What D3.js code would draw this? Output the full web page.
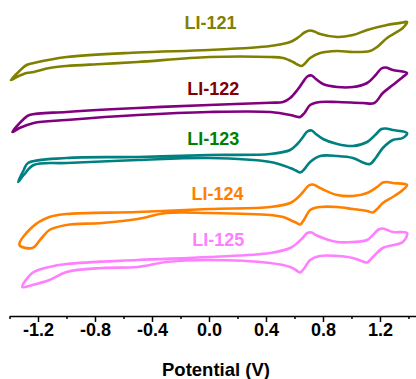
<!DOCTYPE html>
<html>
<head>
<meta charset="utf-8">
<script src="https://cdn.jsdelivr.net/npm/d3@7"></script>
<style>
  html, body { margin: 0; padding: 0; background: #fff; }
  svg { display: block; font-family: "Liberation Sans", Arial, sans-serif; }
</style>
</head>
<body>
<div id="chart"></div>
<script>
// samples and colours
var samples = ["LI-121", "LI-122", "LI-123", "LI-124", "LI-125"];
var lineColors = ["#808000", "#800080", "#008080", "#ff8000", "#ff80ff"];
var labelColors = ["#808000", "#800000", "#008000", "#ff8000", "#ff80ff"];
// vertical stacking offset of each trace (a.u.)
var offsets = [266, 211, 161, 107, 59];

// potential (V), current (a.u.) - forward scan left to right, then back
var li121Fwd = [[-1.39,-30],[-1.33,-21],[-1.28,-15],[-1.23,-13],[-1.0,-7],[-0.5,-2.5],[0,0],[0.43,4],[0.57,8],[0.63,13],[0.67,17.5],[0.71,19.5],[0.74,18.5],[0.78,16],[0.9,13],[1.01,15],[1.11,20],[1.25,25],[1.36,27.5],[1.39,28]];
var li121Rev = [[1.36,22],[1.25,12],[1.18,3],[1.13,-1],[1.01,-2],[0.9,-1],[0.78,-3],[0.71,-8],[0.67,-14],[0.65,-16],[0.62,-14.5],[0.59,-12],[0.52,-8],[0.43,-7],[0,-7],[-0.5,-12],[-0.75,-14],[-1.0,-16],[-1.12,-18],[-1.23,-22],[-1.28,-23],[-1.35,-27]];

var li122Fwd = [[-1.38,-27],[-1.3,-14],[-1.26,-10],[-1.0,-7],[-0.5,-3],[0,0],[0.43,2.3],[0.52,3],[0.57,7],[0.62,15],[0.66,23],[0.69,28.5],[0.72,29.5],[0.75,26],[0.8,21],[0.9,18],[1.01,18],[1.11,22],[1.17,30],[1.21,36.5],[1.24,37.5],[1.29,35],[1.39,32]];
var li122Rev = [[1.36,28],[1.29,20],[1.22,12],[1.16,2],[1.08,2],[0.9,3],[0.78,3],[0.71,0],[0.67,-8],[0.64,-12],[0.61,-11.5],[0.57,-10],[0.43,-7],[0,-7],[-0.5,-10],[-1.0,-15],[-1.23,-18],[-1.33,-23]];

var li123Fwd = [[-1.34,-27],[-1.3,-15],[-1.27,-8],[-1.0,-3],[-0.5,-2],[0,0],[0.43,1],[0.57,5],[0.62,11],[0.66,18],[0.69,23.5],[0.72,24.5],[0.75,21],[0.8,16],[0.9,11],[1.01,9],[1.11,13],[1.17,20.5],[1.21,26],[1.24,26.5],[1.29,25],[1.39,22]];
var li123Rev = [[1.36,17],[1.29,15],[1.22,7],[1.17,-3],[1.13,-9],[1.09,-8],[1.01,-3],[0.9,-1],[0.78,-1],[0.71,-7],[0.67,-14],[0.64,-17.5],[0.61,-15.5],[0.57,-13],[0.43,-7],[0,-3],[-0.5,-5],[-1.0,-8],[-1.23,-10],[-1.3,-20]];

var li124Fwd = [[-1.33,-36],[-1.24,-18],[-1.12,-8],[-1.0,-5],[-0.5,-3],[0,0],[0.43,2],[0.57,6],[0.62,11],[0.66,17],[0.7,23.5],[0.73,24.5],[0.76,22.5],[0.8,19.5],[0.9,14],[1.01,13],[1.11,16],[1.18,22],[1.22,26.5],[1.25,27],[1.29,26],[1.39,24]];
var li124Rev = [[1.36,19],[1.29,12],[1.22,6],[1.18,0],[1.15,-3.5],[1.11,-2],[1.01,0],[0.9,2],[0.78,2],[0.71,-1],[0.67,-10],[0.64,-15.5],[0.61,-13.5],[0.57,-11],[0.52,-8],[0.43,-6],[0,-4],[-0.3,-4],[-0.5,-10],[-0.75,-14],[-1.0,-16],[-1.12,-21],[-1.18,-30],[-1.24,-39]];

var li125Fwd = [[-1.31,-30],[-1.24,-16],[-1.12,-10],[-1.0,-7],[-0.5,-3],[0,0],[0.43,4],[0.57,9],[0.62,14],[0.66,19.5],[0.69,24],[0.72,24.5],[0.75,22],[0.8,19],[0.9,15],[1.01,15],[1.11,17],[1.15,22],[1.19,27.5],[1.22,28.5],[1.29,25],[1.39,24]];
var li125Rev = [[1.36,15],[1.22,9],[1.15,0],[1.11,-5.5],[1.07,-4],[1.01,-1],[0.9,1],[0.78,1],[0.71,-3],[0.67,-11],[0.64,-15.5],[0.61,-13],[0.57,-10],[0.43,-6],[0,-3],[-0.3,-5],[-0.5,-10],[-0.75,-11],[-1.0,-15],[-1.12,-23],[-1.24,-28]];

var majorTicks = [-1.2, -0.8, -0.4, 0.0, 0.4, 0.8, 1.2];
var minorTicks = [-1.4, -1.0, -0.6, -0.2, 0.2, 0.6, 1.0, 1.4];
var xTitle = "Potential (V)";

var scans = [
	li121Fwd.concat(li121Rev),
	li122Fwd.concat(li122Rev),
	li123Fwd.concat(li123Rev),
	li124Fwd.concat(li124Rev),
	li125Fwd.concat(li125Rev)
];

// layout
var width = 416, height = 379,
	axis_y = 316,
	label_lift = [28, 17, 17, 16, 18],
	label_e = [0.01, 0.03, 0.03, 0.06, 0.065];

var svg = d3.select("#chart").append("svg")
	.attr("width", width)
	.attr("height", height);

svg.append("rect").attr("width", width).attr("height", height).attr("fill", "#fff");

var x = d3.scaleLinear().domain([-1.4, 1.45]).range([9.5, 415.6]);
var y = d3.scaleLinear().domain([0, 300]).range([axis_y, axis_y - 300]);

var line = d3.line()
	.x(function (d) { return x(d[0]); })
	.y(function (d) { return y(d[1]); })
	.curve(d3.curveCatmullRomClosed.alpha(0.5));

svg.selectAll("path.cv")
	.data(scans).enter().append("path")
	.attr("class", "cv")
	.attr("fill", "none")
	.attr("stroke", function (d, i) { return lineColors[i]; })
	.attr("stroke-width", 2.6)
	.attr("stroke-linejoin", "round")
	.attr("d", function (d, i) {
		return line(d.map(function (p) { return [p[0], p[1] + offsets[i]]; }));
	});

svg.selectAll("text.sample")
	.data(samples).enter().append("text")
	.attr("class", "sample")
	.attr("x", function (d, i) { return x(label_e[i]); })
	.attr("y", function (d, i) { return y(offsets[i] + label_lift[i]) + 6.5; })
	.attr("text-anchor", "middle")
	.attr("font-size", 18)
	.attr("font-weight", "bold")
	.attr("fill", function (d, i) { return labelColors[i]; })
	.text(function (d) { return d; });

// x axis, major then minor ticks
var gx = svg.append("g").attr("transform", "translate(0," + axis_y + ")");
gx.call(d3.axisBottom(x)
	.tickValues(majorTicks)
	.tickSize(6)
	.tickSizeOuter(0)
	.tickPadding(1)
	.tickFormat(function (d) { return d.toFixed(1); }));
gx.call(function (g) { g.select(".domain").attr("stroke-width", 1.5); });
gx.selectAll(".tick line").attr("stroke-width", 1.5);
gx.selectAll(".tick text")
	.attr("font-size", 18)
	.attr("font-weight", "bold")
	.attr("font-family", "Liberation Sans, Arial, sans-serif")
	.attr("fill", "#000");

var gm = svg.append("g").attr("transform", "translate(0," + axis_y + ")");
gm.call(d3.axisBottom(x).tickValues(minorTicks).tickSize(3).tickSizeOuter(0).tickFormat(""));
gm.select(".domain").remove();
gm.selectAll(".tick line").attr("stroke-width", 1.5);

svg.append("text")
	.attr("x", 216)
	.attr("y", 376)
	.attr("text-anchor", "middle")
	.attr("font-size", 18.5)
	.attr("font-weight", "bold")
	.text(xTitle);
</script>
</body>
</html>
